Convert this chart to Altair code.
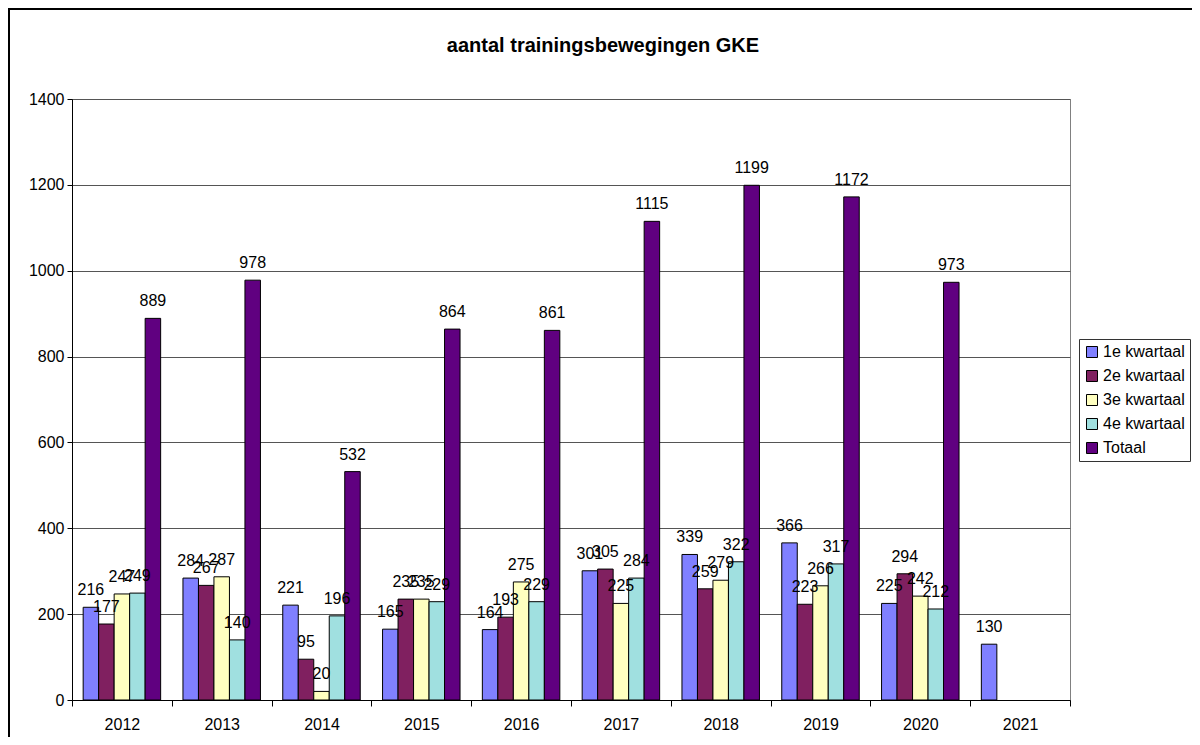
import altair as alt
import pandas as pd

years = ["2012", "2013", "2014", "2015", "2016", "2017", "2018", "2019", "2020", "2021"]
series = ["1e kwartaal", "2e kwartaal", "3e kwartaal", "4e kwartaal", "Totaal"]
q1 = [216, 284, 221, 165, 164, 301, 339, 366, 225, 130]
q2 = [177, 267, 95, 235, 193, 305, 259, 223, 294, None]
q3 = [247, 287, 20, 235, 275, 225, 279, 266, 242, None]
q4 = [249, 140, 196, 229, 229, 284, 322, 317, 212, None]
totaal = [889, 978, 532, 864, 861, 1115, 1199, 1172, 973, None]
colors = ["#8080FF", "#802060", "#FFFFC0", "#A0E0E0", "#600080"]
y_ticks = [0, 200, 400, 600, 800, 1000, 1200, 1400]

rows = []
for s, vals in zip(series, [q1, q2, q3, q4, totaal]):
    for yr, v in zip(years, vals):
        if v is not None:
            rows.append({"jaar": yr, "reeks": s, "aantal": v})
df = pd.DataFrame(rows)

FONT = "Liberation Sans"

x = alt.X(
    "jaar:N", sort=years,
    scale=alt.Scale(paddingInner=0, paddingOuter=0),
    axis=alt.Axis(title=None, labelAngle=0, tickBand="extent", tickSize=6,
                  labelPadding=10, labelFontSize=16, labelFont=FONT,
                  labelColor="black", domainColor="black", tickColor="black"),
)
xo = alt.XOffset("reeks:N", sort=series,
                 scale=alt.Scale(paddingOuter=0.72, paddingInner=0))
y = alt.Y(
    "aantal:Q",
    scale=alt.Scale(domain=[0, 1400], nice=False),
    axis=alt.Axis(title=None, values=y_ticks, format="d", tickSize=5, labelPadding=3,
                  labelFontSize=16, labelFont=FONT, labelColor="black",
                  domainColor="black", tickColor="black", grid=True,
                  gridColor="#555555", gridWidth=1),
)
color = alt.Color(
    "reeks:N", sort=series,
    scale=alt.Scale(domain=series, range=colors),
    legend=alt.Legend(title=None, orient="none", legendX=1007, legendY=240,
                      strokeColor="#333333", fillColor="white", padding=5,
                      labelFontSize=16, labelFont=FONT, labelColor="black",
                      symbolType="square", symbolSize=121,
                      symbolStrokeColor="black", symbolStrokeWidth=1,
                      symbolOpacity=1, rowPadding=8, labelOffset=3),
)

border = alt.Chart(pd.DataFrame({"k": [0]})).mark_rect(
    filled=False, stroke="black", strokeWidth=2
).encode(x=alt.value(-63), x2=alt.value(1300), y=alt.value(-90), y2=alt.value(900))

bars = alt.Chart(df).mark_bar(stroke="black", strokeWidth=1).encode(
    x=x, xOffset=xo, y=y, color=color
)
labels = alt.Chart(df).mark_text(
    baseline="alphabetic", dy=-12, fontSize=16, font=FONT, color="black"
).encode(x=x, xOffset=xo, y=y, text="aantal:Q")

chart = alt.layer(border, bars, labels).properties(
    width=998, height=601,
    padding={"left": 64, "top": 91, "right": 122, "bottom": 37},
    autosize=alt.AutoSizeParams(type="none"),
    title=alt.TitleParams("aantal trainingsbewegingen GKE", fontSize=20,
                          fontWeight="bold", font=FONT, color="black",
                          anchor="middle", frame="group", dx=32, offset=-48),
).configure_view(stroke="#808080").configure_axis(domainWidth=1)

chart.save("out.html", embed_options={"renderer": "svg", "actions": False})
